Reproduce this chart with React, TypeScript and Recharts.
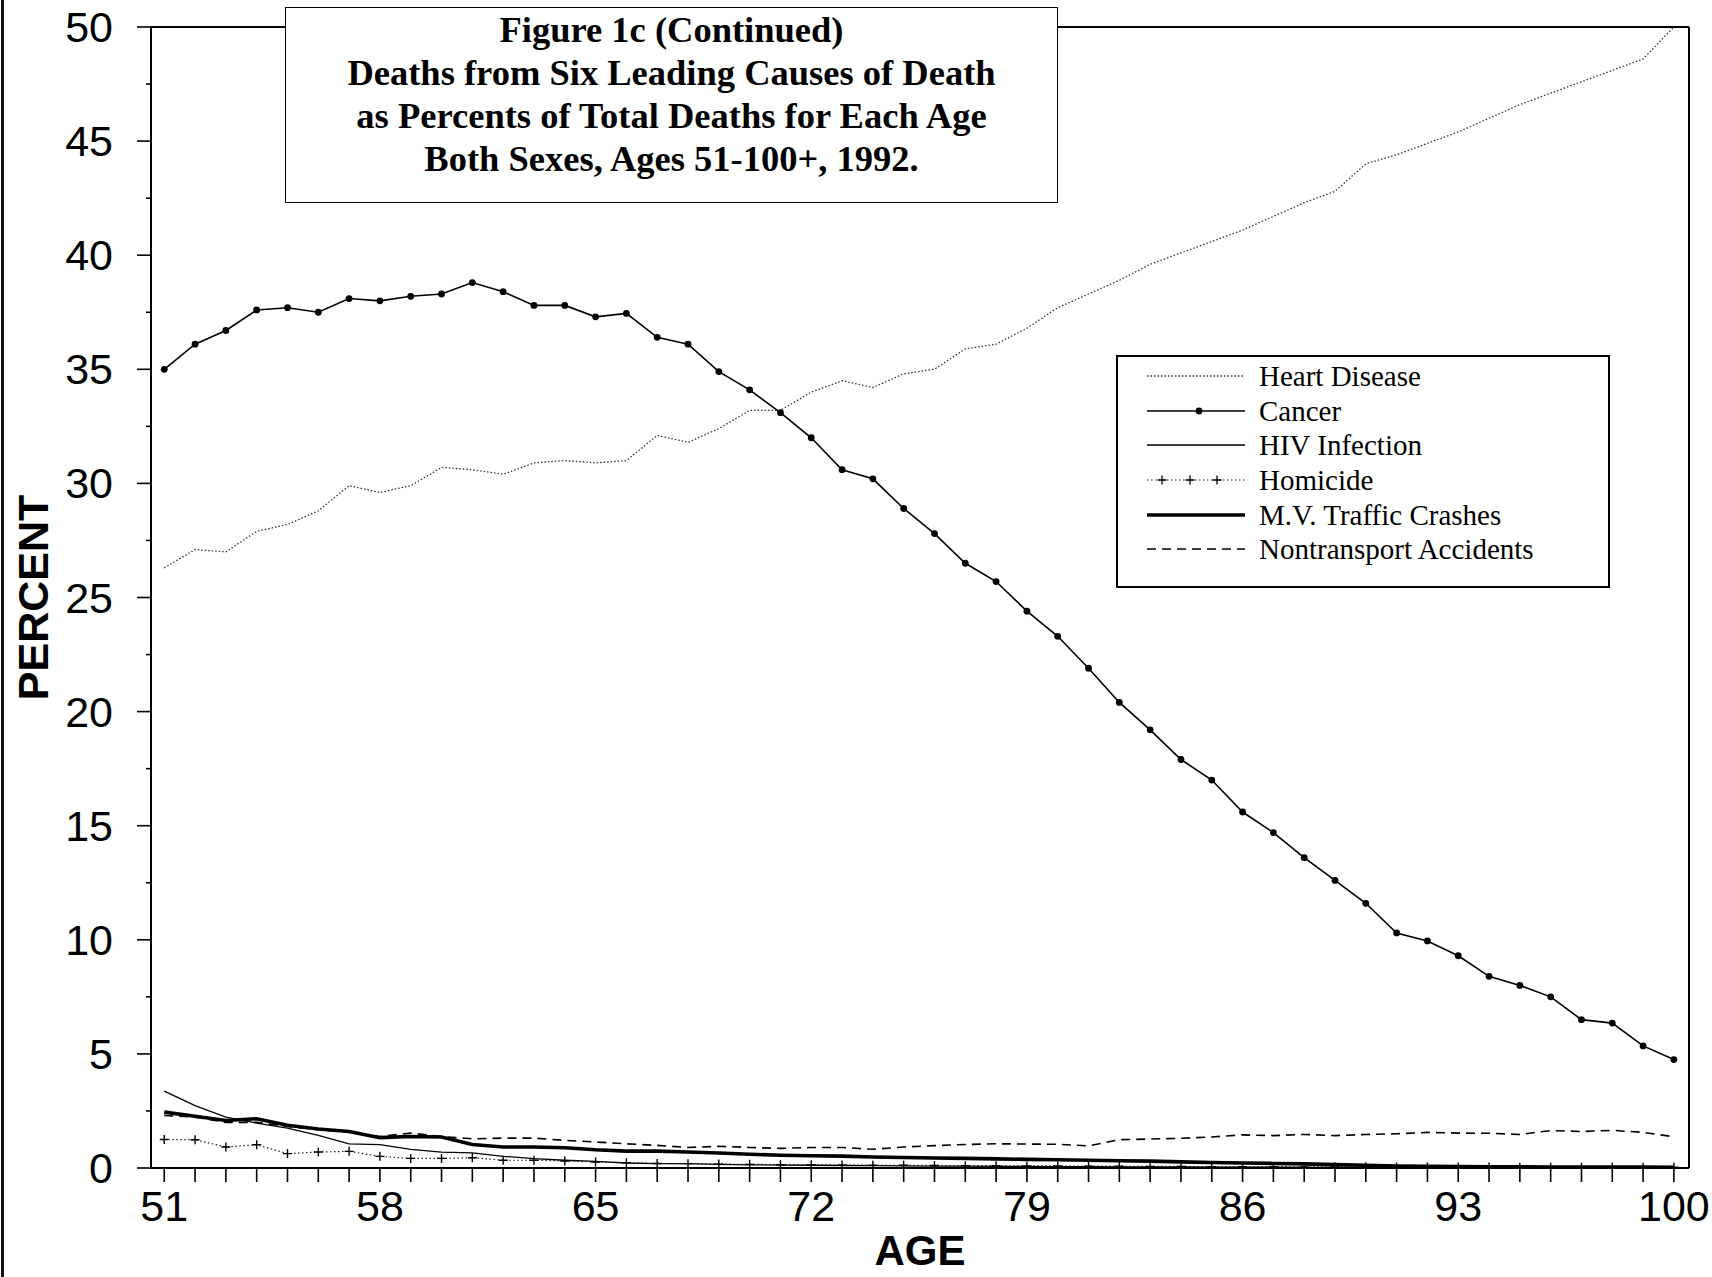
import { LineChart, Line, XAxis, YAxis, ReferenceLine, Legend } from 'recharts';

const ages = [
  51, 52, 53, 54, 55, 56, 57, 58, 59, 60,
  61, 62, 63, 64, 65, 66, 67, 68, 69, 70,
  71, 72, 73, 74, 75, 76, 77, 78, 79, 80,
  81, 82, 83, 84, 85, 86, 87, 88, 89, 90,
  91, 92, 93, 94, 95, 96, 97, 98, 99, 100,
];

const heartDisease = [
  26.3, 27.1, 27.0, 27.9, 28.2, 28.8, 29.9, 29.6, 29.9, 30.7,
  30.6, 30.4, 30.9, 31.0, 30.9, 31.0, 32.1, 31.8, 32.4, 33.2,
  33.2, 34.0, 34.5, 34.2, 34.8, 35.0, 35.9, 36.1, 36.8, 37.7,
  38.3, 38.9, 39.6, 40.1, 40.6, 41.1, 41.7, 42.3, 42.8, 44.0,
  44.4, 44.9, 45.4, 46.0, 46.6, 47.1, 47.6, 48.1, 48.6, 50.0,
];

const cancer = [
  35.0, 36.1, 36.7, 37.6, 37.7, 37.5, 38.1, 38.0, 38.2, 38.3,
  38.8, 38.4, 37.8, 37.8, 37.3, 37.45, 36.4, 36.1, 34.9, 34.1,
  33.1, 32.0, 30.6, 30.2, 28.9, 27.8, 26.5, 25.7, 24.4, 23.3,
  21.9, 20.4, 19.2, 17.9, 17.0, 15.6, 14.7, 13.6, 12.6, 11.6,
  10.3, 9.95, 9.3, 8.4, 8.0, 7.5, 6.5, 6.35, 5.35, 4.75,
];

const hivInfection = [
  3.37, 2.73, 2.23, 1.97, 1.75, 1.43, 1.06, 1.02, 0.82, 0.70,
  0.66, 0.51, 0.41, 0.34, 0.29, 0.22, 0.19, 0.19, 0.16, 0.14,
  0.13, 0.12, 0.11, 0.10, 0.09, 0.08, 0.08, 0.07, 0.07, 0.06,
  0.06, 0.05, 0.05, 0.05, 0.04, 0.04, 0.04, 0.03, 0.03, 0.03,
  0.03, 0.02, 0.02, 0.02, 0.02, 0.02, 0.02, 0.01, 0.01, 0.01,
];

const homicide = [
  1.25, 1.24, 0.92, 1.02, 0.63, 0.70, 0.73, 0.51, 0.42, 0.42,
  0.45, 0.34, 0.34, 0.31, 0.26, 0.23, 0.20, 0.19, 0.17, 0.16,
  0.15, 0.14, 0.13, 0.12, 0.12, 0.11, 0.10, 0.10, 0.09, 0.09,
  0.08, 0.08, 0.07, 0.07, 0.06, 0.06, 0.06, 0.05, 0.05, 0.05,
  0.04, 0.04, 0.04, 0.04, 0.03, 0.03, 0.03, 0.03, 0.03, 0.03,
];

const mvTraffic = [
  2.45, 2.27, 2.08, 2.16, 1.87, 1.71, 1.60, 1.33, 1.38, 1.36,
  1.03, 0.92, 0.92, 0.89, 0.80, 0.74, 0.74, 0.70, 0.66, 0.60,
  0.56, 0.54, 0.52, 0.48, 0.46, 0.44, 0.42, 0.40, 0.38, 0.36,
  0.34, 0.32, 0.30, 0.27, 0.24, 0.22, 0.20, 0.18, 0.15, 0.12,
  0.09, 0.07, 0.06, 0.05, 0.05, 0.04, 0.04, 0.04, 0.04, 0.03,
];

const nontransport = [
  2.30, 2.23, 2.00, 2.00, 1.82, 1.68, 1.57, 1.38, 1.53, 1.38,
  1.28, 1.31, 1.31, 1.21, 1.14, 1.06, 0.99, 0.90, 0.95, 0.90,
  0.86, 0.90, 0.90, 0.82, 0.92, 0.98, 1.03, 1.06, 1.05, 1.04,
  0.97, 1.24, 1.27, 1.30, 1.36, 1.45, 1.42, 1.47, 1.42, 1.47,
  1.50, 1.56, 1.53, 1.52, 1.47, 1.64, 1.60, 1.65, 1.56, 1.37,
];

const labeledAges = [51, 58, 65, 72, 79, 86, 93, 100];
const percentTicks = [0, 2.5, 5, 7.5, 10, 12.5, 15, 17.5, 20, 22.5, 25, 27.5, 30, 32.5, 35, 37.5, 40, 42.5, 45, 47.5, 50];

const titleLines = [
  'Figure 1c (Continued)',
  'Deaths from Six Leading Causes of Death',
  'as Percents of Total Deaths for Each Age',
  'Both Sexes, Ages 51-100+, 1992.',
];

const rows = ages.map((age, i) => ({
  age,
  heart: heartDisease[i],
  cancer: cancer[i],
  hiv: hivInfection[i],
  homicide: homicide[i],
  mv: mvTraffic[i],
  nontransport: nontransport[i],
}));

const SANS = '"Liberation Sans", Arial, sans-serif';
const SERIF = '"Liberation Serif", "Times New Roman", serif';

// line looks per series, also used to draw the legend samples
const series = [
  { key: 'heart', name: 'Heart Disease', stroke: '#333', width: 1.3, dash: '1.5 2', marker: 'none' },
  { key: 'cancer', name: 'Cancer', stroke: '#000', width: 1.6, dash: undefined, marker: 'dot' },
  { key: 'hiv', name: 'HIV Infection', stroke: '#000', width: 1.3, dash: undefined, marker: 'none' },
  { key: 'homicide', name: 'Homicide', stroke: '#222', width: 1.2, dash: '1.5 2.5', marker: 'plus' },
  { key: 'mv', name: 'M.V. Traffic Crashes', stroke: '#000', width: 3.6, dash: undefined, marker: 'none' },
  { key: 'nontransport', name: 'Nontransport Accidents', stroke: '#000', width: 1.6, dash: '9 6', marker: 'none' },
];

function PlusDot(props: any) {
  const { cx, cy, index } = props;
  if (cx == null || cy == null) return <g key={index} />;
  return (
    <path
      key={index}
      d={`M${cx - 4.5},${cy}H${cx + 4.5}M${cx},${cy - 4.5}V${cy + 4.5}`}
      stroke="#000"
      strokeWidth={1.4}
      fill="none"
    />
  );
}

function AgeTick({ x, y, payload }: any) {
  const v = payload.value;
  return (
    <g>
      <line x1={x} y1={y} x2={x} y2={y + 14} stroke="#000" strokeWidth={1.6} />
      {labeledAges.includes(v) && (
        <text x={x} y={y + 53} textAnchor="middle" fontFamily={SANS} fontSize={43} fill="#000">
          {v}
        </text>
      )}
    </g>
  );
}

function PercentTick({ x, y, payload }: any) {
  const v = payload.value;
  const major = v % 5 === 0;
  return (
    <g>
      <line x1={x - (major ? 14 : 5)} y1={y} x2={x} y2={y} stroke="#000" strokeWidth={1.6} />
      {major && (
        <text x={x - 38} y={y + 15} textAnchor="end" fontFamily={SANS} fontSize={43} fill="#000">
          {v}
        </text>
      )}
    </g>
  );
}

function PercentLabel({ viewBox }: any) {
  const cy = viewBox.y + viewBox.height / 2;
  return (
    <text
      x={48}
      y={cy}
      transform={`rotate(-90 48 ${cy})`}
      textAnchor="middle"
      fontFamily={SANS}
      fontWeight={700}
      fontSize={43}
      fill="#000"
    >
      PERCENT
    </text>
  );
}

function AgeLabel({ viewBox }: any) {
  const cx = viewBox.x + viewBox.width / 2;
  return (
    <text x={cx} y={viewBox.y + viewBox.height - 12} textAnchor="middle" fontFamily={SANS} fontWeight={700} fontSize={42} fill="#000">
      AGE
    </text>
  );
}

function LegendSample({ s }: { s: (typeof series)[number] }) {
  return (
    <svg width={98} height={20} style={{ display: 'block' }}>
      <line x1={0} y1={10} x2={98} y2={10} stroke={s.stroke} strokeWidth={s.width} strokeDasharray={s.dash} />
      {s.marker === 'dot' && <circle cx={52} cy={10} r={3.4} fill="#000" />}
      {s.marker === 'plus' &&
        [15, 43, 70].map((px) => (
          <path key={px} d={`M${px - 4.5},10H${px + 4.5}M${px},5.5V14.5`} stroke="#000" strokeWidth={1.3} />
        ))}
    </svg>
  );
}

function LegendBox() {
  return (
    <div
      style={{
        position: 'absolute',
        left: 0,
        top: 0,
        boxSizing: 'border-box',
        width: 494,
        height: 233,
        border: '2px solid #000',
        background: '#fff',
        paddingTop: 2,
        fontFamily: SERIF,
        fontSize: 29,
        color: '#000',
      }}
    >
      {series.map((s) => (
        <div key={s.key} style={{ display: 'flex', alignItems: 'center', height: 34.6, paddingLeft: 29 }}>
          <LegendSample s={s} />
          <span style={{ marginLeft: 14, lineHeight: '34px', whiteSpace: 'nowrap' }}>{s.name}</span>
        </div>
      ))}
    </div>
  );
}

export default function App() {
  return (
    <div style={{ position: 'absolute', left: 0, top: 0, width: 1712, height: 1277, background: '#fff' }}>
      <div style={{ position: 'absolute', left: 1, top: 0, width: 3, height: 1277, background: '#111' }} />
      <LineChart width={1712} height={1277} data={rows} margin={{ top: 27, right: 23, bottom: 0, left: 0 }}>
        <XAxis
          dataKey="age"
          type="number"
          domain={[50.57, 100.49]}
          ticks={ages}
          interval={0}
          height={109}
          tickSize={0}
          tickMargin={0}
          tickLine={false}
          tick={<AgeTick />}
          axisLine={{ stroke: '#000', strokeWidth: 2 }}
          label={<AgeLabel />}
          allowDataOverflow
        />
        <YAxis
          type="number"
          domain={[0, 50]}
          ticks={percentTicks}
          interval={0}
          width={151}
          tickSize={0}
          tickMargin={0}
          tickLine={false}
          tick={<PercentTick />}
          axisLine={{ stroke: '#000', strokeWidth: 2 }}
          label={<PercentLabel />}
          allowDataOverflow
        />
        <ReferenceLine y={50} stroke="#000" strokeWidth={2} />
        <ReferenceLine x={100.49} stroke="#000" strokeWidth={2} />
        {series.map((s) => (
          <Line
            key={s.key}
            type="linear"
            dataKey={s.key}
            name={s.name}
            stroke={s.stroke}
            strokeWidth={s.width}
            strokeDasharray={s.dash}
            dot={
              s.marker === 'dot'
                ? { r: 3.4, fill: '#000', stroke: '#000', strokeWidth: 0 }
                : s.marker === 'plus'
                ? (p: any) => <PlusDot key={p.index} {...p} />
                : false
            }
            activeDot={false}
            isAnimationActive={false}
          />
        ))}
        {/* zero-size wrapper so the legend reserves no room in the plot layout */}
        <Legend
          content={() => <LegendBox />}
          wrapperStyle={{ position: 'absolute', left: 1116, top: 355, width: 0, height: 0, bottom: 'auto', overflow: 'visible' }}
        />
      </LineChart>
      <div
        style={{
          position: 'absolute',
          left: 285,
          top: 7,
          width: 773,
          height: 196,
          boxSizing: 'border-box',
          border: '1.5px solid #000',
          background: '#fff',
          fontFamily: SERIF,
          fontWeight: 700,
          fontSize: 36.5,
          lineHeight: '43px',
          textAlign: 'center',
          color: '#000',
          zIndex: 5,
        }}
      >
        {titleLines.map((t) => (
          <div key={t}>{t}</div>
        ))}
      </div>
    </div>
  );
}
